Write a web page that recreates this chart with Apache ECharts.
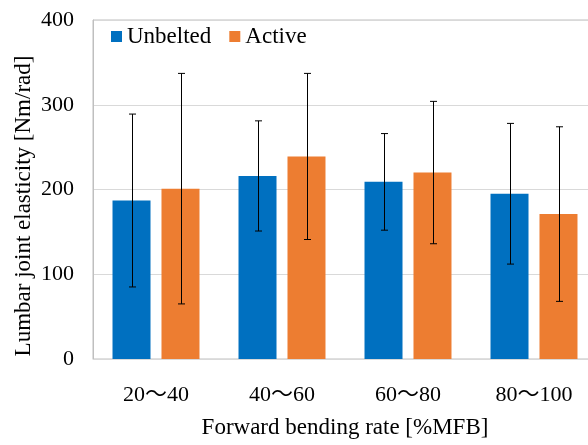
<!DOCTYPE html>
<html>
<head>
<meta charset="utf-8">
<script src="https://cdn.jsdelivr.net/npm/echarts@6/dist/echarts.min.js"></script>
<style>html,body{margin:0;padding:0;background:#fff}#c{width:588px;height:445px}</style>
</head>
<body>
<div id="c"></div>
<script>
var categories = ['20～40', '40～60', '60～80', '80～100'];
var seriesNames = ['Unbelted', 'Active'];
var unbeltedMean = [187, 216, 209, 195];
var unbeltedSD = [102, 65, 57, 83];
var activeMean = [201, 239, 220, 171];
var activeSD = [136, 98, 84, 103];
var yTicks = [0, 100, 200, 300, 400];

var FONT = "'Liberation Serif', 'Times New Roman', 'Noto Sans CJK JP', serif";
var BAR_W = 38, GAP = 11;
var OFFSET = (BAR_W + GAP) / 2;

function errData(mean, sd) {
  return mean.map(function (m, i) { return [i, m - sd[i], m + sd[i]]; });
}
function errSeries(mean, sd, dir) {
  return {
    type: 'custom',
    data: errData(mean, sd),
    z: 10,
    silent: true,
    encode: { x: 0, y: [1, 2] },
    renderItem: function (params, api) {
      var lo = api.coord([api.value(0), api.value(1)]);
      var hi = api.coord([api.value(0), api.value(2)]);
      var x = Math.round(lo[0] + dir * OFFSET) + 0.5;
      var cap = 3.5;
      var st = { stroke: '#000', lineWidth: 1 };
      return {
        type: 'group',
        children: [
          { type: 'line', shape: { x1: x, y1: lo[1], x2: x, y2: hi[1] }, style: st },
          { type: 'line', shape: { x1: x - cap, y1: hi[1], x2: x + cap, y2: hi[1] }, style: st },
          { type: 'line', shape: { x1: x - cap, y1: lo[1], x2: x + cap, y2: lo[1] }, style: st }
        ]
      };
    }
  };
}

var chart = echarts.init(document.getElementById('c'), null, { renderer: 'canvas' });
chart.setOption({
  animation: false,
  backgroundColor: '#fff',
  textStyle: { fontFamily: FONT },
  grid: {
    left: 93, top: 20, right: -9, bottom: 86,
    show: true, borderColor: '#bfbfbf', borderWidth: 1,
    containLabel: false, outerBoundsMode: 'none'
  },
  legend: {
    data: seriesNames,
    left: 111, top: 25, padding: 0,
    itemWidth: 11, itemHeight: 11, itemGap: 18,
    icon: 'rect',
    textStyle: { fontFamily: FONT, fontSize: 23, color: '#000', padding: [0, 0, 0, 0] }
  },
  xAxis: {
    type: 'category',
    data: categories,
    axisTick: { show: false },
    axisLine: { lineStyle: { color: '#d9d9d9' } },
    axisLabel: { fontFamily: FONT, fontSize: 22, color: '#000', margin: 25 }
  },
  yAxis: {
    type: 'value',
    min: 0, max: 400, interval: 100,
    axisLine: { show: true, lineStyle: { color: '#bfbfbf' } },
    axisTick: { show: false },
    splitLine: { lineStyle: { color: '#d9d9d9' } },
    axisLabel: {
      fontFamily: FONT, fontSize: 22, color: '#000', margin: 19,
      formatter: function (v) { return yTicks.indexOf(v) >= 0 ? String(v) : ''; }
    }
  },
  graphic: [
    {
      type: 'text',
      x: 345, y: 428,
      style: {
        text: 'Forward bending rate [%MFB]', fill: '#000',
        font: '23px ' + FONT, textAlign: 'center', textVerticalAlign: 'middle'
      }
    },
    {
      type: 'text',
      x: 24, y: 206, rotation: Math.PI / 2,
      style: {
        text: 'Lumbar joint elasticity [Nm/rad]', fill: '#000',
        font: '23px ' + FONT, textAlign: 'center', textVerticalAlign: 'middle'
      }
    }
  ],
  series: [
    { name: seriesNames[0], type: 'bar', data: unbeltedMean, barWidth: BAR_W, barGap: (GAP / BAR_W * 100).toFixed(1) + '%', itemStyle: { color: '#0070C0' } },
    { name: seriesNames[1], type: 'bar', data: activeMean, barWidth: BAR_W, itemStyle: { color: '#ED7D31' } },
    errSeries(unbeltedMean, unbeltedSD, -1),
    errSeries(activeMean, activeSD, 1)
  ]
});
</script>
</body>
</html>
